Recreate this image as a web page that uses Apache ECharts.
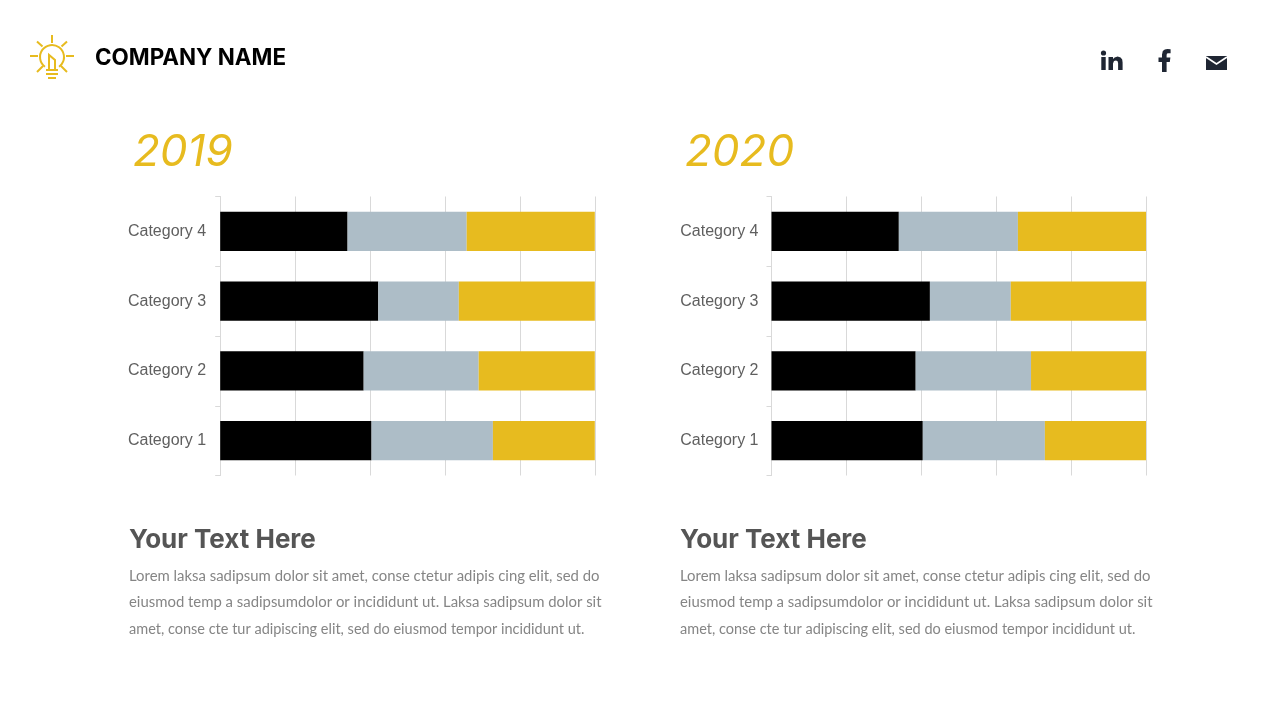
<!DOCTYPE html>
<html><head><meta charset="utf-8">
<style>html,body{margin:0;padding:0;background:#fff}#c{width:1280px;height:720px}</style>
<script src="https://cdn.jsdelivr.net/npm/echarts@6/dist/echarts.min.js"></script>
</head><body><div id="c"></div>
<script>
const categories = ['Category 1','Category 2','Category 3','Category 4'];
const seriesNames = ['Series 1','Series 2','Series 3'];
const black2019 = [40.4,38.3,42.2,34];
const grey2019  = [32.4,30.7,21.5,31.8];
const gold2019  = [27.2,31,36.3,34.2];
const black2020 = [40.4,38.5,42.3,34];
const grey2020  = [32.6,30.8,21.6,31.8];
const gold2020  = [27,30.7,36.1,34.2];
const colors = ['#000000','#adbdc7','#e7bb1f'];
const bodyLines = [
 'Lorem laksa sadipsum dolor sit amet, conse ctetur adipis cing elit, sed do',
 'eiusmod temp a sadipsumdolor or incididunt ut. Laksa sadipsum dolor sit',
 'amet, conse cte tur adipiscing elit, sed do eiusmod tempor incididunt ut.'
];
const chart = echarts.init(document.getElementById('c'),null,{renderer:'canvas'});
function grid(l,w){return {left:l,top:196.5,width:w,height:279,containLabel:false};}
function xA(i){return {type:'value',gridIndex:i,min:0,max:100,interval:20,
  axisLabel:{show:false},axisTick:{show:false},axisLine:{show:false},
  splitLine:{show:true,lineStyle:{color:'#d9d9d9',width:1}}};}
function yA(i){return {type:'category',gridIndex:i,data:categories,
  axisLine:{show:true,lineStyle:{color:'#d9d9d9',width:1}},
  axisTick:{show:true,length:5,alignWithLabel:false,lineStyle:{color:'#d9d9d9'}},
  axisLabel:{color:'#5f5f5f',fontSize:16,fontFamily:'Liberation Sans',margin:i?13:14}};}
function sers(i,arrs){return arrs.map((d,k)=>({name:seriesNames[k],type:'bar',stack:'s'+i,xAxisIndex:i,yAxisIndex:i,
  data:d,barWidth:'56%',itemStyle:{color:colors[k]},silent:true,animation:false}));}
const g=[];
function txt(x,y,s,font,fill){g.push({type:'text',x:x,y:y,style:{text:s,font:font,fill:fill,textBaseline:'middle',verticalAlign:'middle'},silent:true});}
txt(95,58,'COMPANY NAME','bold 22.4px Inter','#000');
[[133,'2019'],[685,'2020']].forEach(a=>txt(a[0],153,a[1],'italic 44px Inter','#e7bb1f'));
[129,680].forEach(x=>{
  txt(x,540.5,'Your Text Here','bold 26px Inter','#555');
  bodyLines.forEach((l,i)=>txt(x,[576,602,629][i],l,[14.9,14.9,14.5][i]+'px Lato','#858585'));
});
const S={stroke:'#e7bb1f',lineWidth:2,fill:null};
[[52,35,52,43],[30,56,38,56],[66,56,74,56],[37,41.5,42.5,46.5],[67,41.5,61.5,46.5],[37,72,43,66],[67,72,61,66],[46,70,58,70],[46,74,58,74],[48,78,56,78]]
 .forEach(p=>g.push({type:'line',shape:{x1:p[0],y1:p[1],x2:p[2],y2:p[3]},style:S,silent:true}));
g.push({type:'arc',shape:{cx:52,cy:57,r:12,startAngle:Math.PI*0.7,endAngle:Math.PI*0.3,clockwise:true},style:S,silent:true});
g.push({type:'polyline',shape:{points:[[49,69],[49,55],[55,60],[55,69]]},style:S,silent:true});
const D='#1f2633';
function poly(pts){g.push({type:'polygon',shape:{points:pts},style:{fill:D},silent:true});}
g.push({type:'circle',shape:{cx:1103.5,cy:53,r:2.6},style:{fill:D},silent:true});
g.push({type:'rect',shape:{x:1101.3,y:57,width:4.4,height:13},style:{fill:D},silent:true});
poly([[1108.5,57],[1113,57],[1113,59],[1114.6,57.4],[1117.6,56.6],[1120.6,57.4],[1122.2,59.4],[1122.6,62.4],[1122.6,70],[1118.1,70],[1118.1,63.2],[1117.6,61.2],[1116,60.4],[1114,61],[1113,63.6],[1113,70],[1108.5,70]]);
poly([[1162,72],[1162,62],[1158.5,62],[1158.5,57.6],[1162,57.6],[1162,54.5],[1162.8,51],[1164.8,49.6],[1167.4,49],[1170.6,49.3],[1170.6,53.2],[1168.6,53.2],[1167,53.6],[1166.6,55],[1166.6,57.6],[1170.4,57.6],[1169.8,62],[1166.6,62],[1166.6,72]]);
g.push({type:'rect',shape:{x:1206,y:56,width:21,height:14},style:{fill:D},silent:true});
g.push({type:'polyline',shape:{points:[[1206,57],[1216.5,64],[1227,57]]},style:{stroke:'#fff',lineWidth:1.6,fill:null},silent:true});
chart.setOption({animation:false,backgroundColor:'#fff',
 grid:[grid(220.2,374.6),grid(771.5,374.5)],
 xAxis:[xA(0),xA(1)],yAxis:[yA(0),yA(1)],
 series:[...sers(0,[black2019,grey2019,gold2019]),...sers(1,[black2020,grey2020,gold2020])],
 graphic:g});
</script></body></html>
